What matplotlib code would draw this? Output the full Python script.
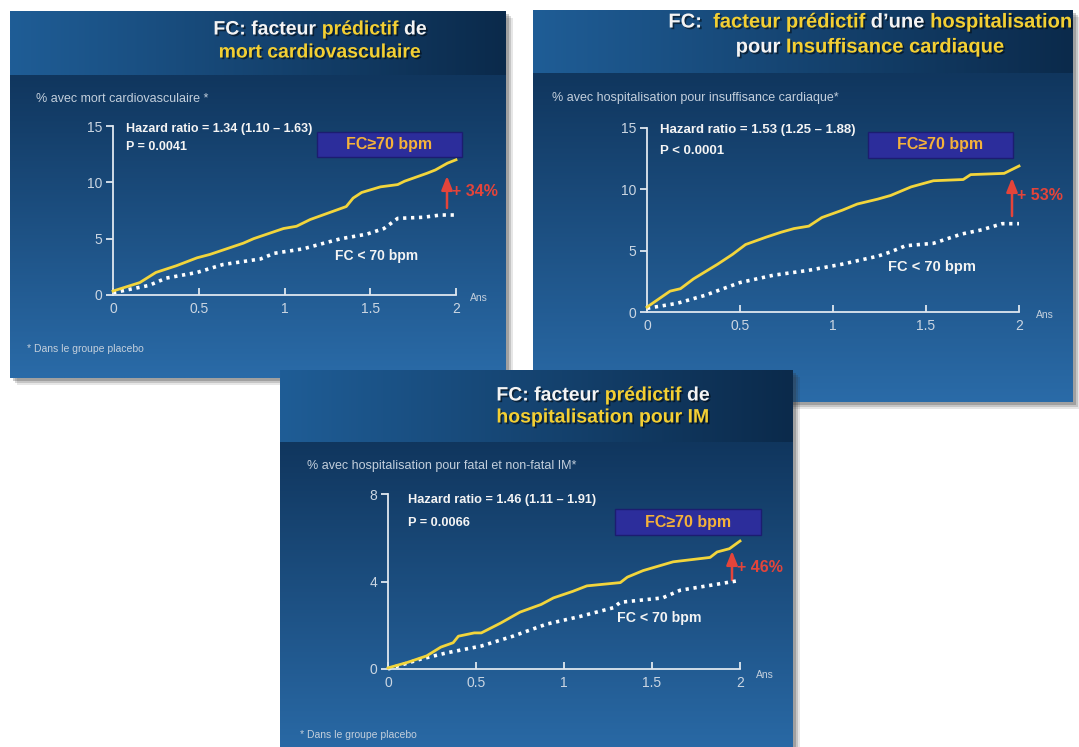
import numpy as np
import matplotlib.pyplot as plt
import matplotlib.colors as mcolors
from matplotlib.patches import Rectangle
import matplotlib.patheffects as pe

W, H = 1079, 747

# ---- data (years, %) ----
t_hi1 = [0, 0.156, 0.25, 0.37, 0.49, 0.565, 0.76, 0.82, 0.994, 1.07, 1.15, 1.36, 1.40, 1.45, 1.56, 1.66, 1.70, 1.83, 1.88, 1.95, 2.0]
hi1 = [0.35, 1.1, 2.0, 2.6, 3.3, 3.6, 4.6, 5.0, 5.9, 6.1, 6.7, 7.85, 8.6, 9.1, 9.6, 9.8, 10.1, 10.8, 11.1, 11.7, 12.0]
t_lo1 = [0, 0.21, 0.31, 0.49, 0.64, 0.86, 0.94, 1.11, 1.23, 1.33, 1.48, 1.58, 1.66, 1.81, 1.91, 2.0]
lo1 = [0.2, 0.85, 1.5, 2.0, 2.7, 3.2, 3.7, 4.1, 4.6, 5.0, 5.4, 5.9, 6.8, 6.9, 7.1, 7.1]

t_hi2 = [0, 0.124, 0.18, 0.25, 0.38, 0.46, 0.53, 0.64, 0.72, 0.79, 0.87, 0.94, 1.05, 1.13, 1.24, 1.31, 1.42, 1.54, 1.70, 1.74, 1.92, 2.0]
hi2 = [0.4, 1.7, 1.9, 2.7, 3.9, 4.7, 5.5, 6.1, 6.5, 6.8, 7.0, 7.7, 8.3, 8.8, 9.2, 9.5, 10.2, 10.7, 10.8, 11.2, 11.3, 11.9]
t_lo2 = [0, 0.16, 0.31, 0.50, 0.68, 0.87, 1.05, 1.24, 1.31, 1.39, 1.54, 1.69, 1.80, 1.91, 2.0]
lo2 = [0.3, 0.7, 1.35, 2.4, 3.0, 3.4, 3.9, 4.55, 4.9, 5.4, 5.6, 6.35, 6.7, 7.2, 7.2]

t_hi3 = [0, 0.11, 0.22, 0.30, 0.37, 0.40, 0.49, 0.53, 0.64, 0.75, 0.87, 0.94, 1.05, 1.13, 1.32, 1.36, 1.45, 1.62, 1.83, 1.87, 1.94, 2.0]
hi3 = [0.05, 0.3, 0.6, 1.0, 1.2, 1.5, 1.65, 1.65, 2.1, 2.6, 2.95, 3.25, 3.55, 3.8, 3.95, 4.2, 4.5, 4.9, 5.1, 5.35, 5.5, 5.85]
t_lo3 = [0, 0.185, 0.34, 0.53, 0.71, 0.90, 1.09, 1.28, 1.32, 1.56, 1.66, 1.85, 2.0]
lo3 = [0, 0.45, 0.75, 1.05, 1.5, 2.05, 2.4, 2.8, 3.05, 3.25, 3.6, 3.85, 4.05]

x_ticks = [0, 0.5, 1, 1.5, 2]
x_ticklabels = ["0", "0.5", "1", "1.5", "2"]
y_ticks_15 = [0, 5, 10, 15]
y_ticks_8 = [0, 4, 8]

ylabels = ["% avec mort cardiovasculaire *",
           "% avec hospitalisation pour insuffisance cardiaque*",
           "% avec hospitalisation pour fatal et non-fatal IM*"]
hazard_texts = ["Hazard ratio = 1.34 (1.10 \u2013 1.63)",
                "Hazard ratio = 1.53 (1.25 \u2013 1.88)",
                "Hazard ratio = 1.46 (1.11 \u2013 1.91)"]
p_texts = ["P = 0.0041", "P < 0.0001", "P = 0.0066"]
increase_texts = ["+ 34%", "+ 53%", "+ 46%"]

WHITE = "#f4f4f4"
YEL = "#f3cf33"
LINE_YEL = "#f2d53c"
RED = "#e4443a"

plt.rcParams["font.family"] = ["Liberation Sans", "DejaVu Sans"]

fig = plt.figure(figsize=(W / 100, H / 100), dpi=100)
fig.patch.set_facecolor("white")


def grad(h, w, c0, c1, horizontal=False):
    c0 = np.array(mcolors.to_rgb(c0))
    c1 = np.array(mcolors.to_rgb(c1))
    if horizontal:
        s = np.linspace(0, 1, w)[None, :, None]
    else:
        s = np.linspace(0, 1, h)[:, None, None]
    return np.broadcast_to(c0 * (1 - s) + c1 * s, (h, w, 3))


def panel(x0, x1, y0, y1, yh, z):
    # soft shadow to the right / bottom
    for off, a in [(7, 0.12), (5, 0.18), (3, 0.25)]:
        fig.add_artist(Rectangle(((x0 + off) / W, 1 - (y1 + off) / H), (x1 - x0) / W, (y1 - y0) / H,
                                 transform=fig.transFigure, facecolor="#333333", alpha=a,
                                 edgecolor="none", zorder=z - 0.3))
    ax = fig.add_axes([x0 / W, 1 - y1 / H, (x1 - x0) / W, (y1 - y0) / H], zorder=z)
    ax.set_xlim(x0, x1)
    ax.set_ylim(y1, y0)
    ax.set_axis_off()
    ax.imshow(grad(200, 2, "#10365e", "#2a6ba8"), extent=(x0, x1, y1, yh),
              aspect="auto", interpolation="bilinear", zorder=0)
    ax.imshow(grad(2, 200, "#1f5d96", "#0b2a4b", horizontal=True), extent=(x0, x1, yh, y0),
              aspect="auto", interpolation="bilinear", zorder=0)
    return ax


def rich_line(ax, cx, y, pieces, size):
    r = fig.canvas.get_renderer()

    def width(s):
        t = ax.text(0, 0, s + "|", fontsize=size, fontweight="bold")
        w = t.get_window_extent(r).width
        t.remove()
        return w

    bar = width("")
    full = width("".join(s for s, _ in pieces)) - bar
    x = cx - full / 2
    prefix = ""
    for s, c in pieces:
        off = width(prefix) - bar if prefix else 0
        ax.text(x + off, y, s, color=c, fontsize=size, fontweight="bold", va="center", ha="left",
                zorder=3, path_effects=[pe.withSimplePatchShadow(offset=(1.2, -1.2), shadow_rgbFace="#000000", alpha=0.5)])
        prefix += s


def plot_axes(X0, X1, Y0, Yt, ymax, yticks, z, t_hi, hi, t_lo, lo):
    ax = fig.add_axes([X0 / W, 1 - Y0 / H, (X1 - X0) / W, (Y0 - Yt) / H], zorder=z + 0.1)
    ax.patch.set_alpha(0)
    ax.set_xlim(0, 2)
    ax.set_ylim(0, ymax)
    for s in ["top", "right"]:
        ax.spines[s].set_visible(False)
    for s in ["left", "bottom"]:
        ax.spines[s].set_color("#dfe7ef")
        ax.spines[s].set_linewidth(1.3)
    ax.set_xticks(x_ticks)
    ax.set_xticklabels(x_ticklabels)
    ax.set_yticks(yticks)
    ax.tick_params(axis="x", direction="in", length=5, width=1.3, color="#dfe7ef",
                   labelcolor="#cbd6e2", labelsize=10, pad=5)
    ax.tick_params(axis="y", direction="out", length=5, width=1.3, color="#dfe7ef",
                   labelcolor="#cbd6e2", labelsize=10, pad=3)
    ax.plot(t_lo, lo, color="white", lw=2.6, ls=(0, (0.9, 1.3)), clip_on=False, zorder=2)
    ax.plot(t_hi, hi, color=LINE_YEL, lw=2.0, clip_on=False, zorder=3)
    return ax


def annotations(ax, k, ylab, hz, ptxt, box, fc_lo, inc, arrow, ans, dans, fs):
    ax.text(ylab[0], ylab[1], ylabels[k], color="#c3cfdc", fontsize=9, va="center", zorder=3)
    ax.text(hz[0], hz[1], hazard_texts[k], color=WHITE, fontsize=fs, fontweight="bold", va="center", zorder=3)
    ax.text(hz[0], ptxt, p_texts[k], color=WHITE, fontsize=fs, fontweight="bold", va="center", zorder=3)
    bx0, by0, bx1, by1 = box
    ax.add_patch(Rectangle((bx0, by0), bx1 - bx0, by1 - by0, facecolor="#2c2d9b",
                           edgecolor="#1c1d70", lw=1, zorder=3))
    ax.text((bx0 + bx1) / 2, (by0 + by1) / 2, "FC\u226570 bpm", color="#f4b23a", fontsize=11.5,
            fontweight="bold", ha="center", va="center", zorder=4)
    ax.text(fc_lo[0], fc_lo[1], "FC < 70 bpm", color=WHITE, fontsize=fs + 1, fontweight="bold",
            va="center", zorder=3)
    ax.text(inc[0], inc[1], increase_texts[k], color=RED, fontsize=11.5,
            fontweight="bold", va="center", zorder=3)
    ax.annotate("", xy=(arrow[0], arrow[2]), xytext=(arrow[0], arrow[1]), zorder=3,
                arrowprops=dict(arrowstyle="-|>,head_width=0.3,head_length=0.75", color=RED,
                                lw=1.8, shrinkA=0, shrinkB=0, mutation_scale=11))
    ax.text(ans[0], ans[1], "Ans", color="#c3cfdc", fontsize=7.5, va="center", zorder=3)
    if dans is not None:
        ax.text(dans[0], dans[1], "* Dans le groupe placebo", color="#c3cfdc", fontsize=7.5,
                va="center", zorder=3)


# ---- panel 1 : mort cardiovasculaire ----
bg1 = panel(10, 506, 11, 378, 75, 1)
rich_line(bg1, 320, 30, [("FC: facteur ", WHITE), ("pr\u00e9dictif", YEL), (" de", WHITE)], 14)
rich_line(bg1, 320, 53, [("mort cardiovasculaire", YEL)], 14)
annotations(bg1, 0, (36, 99), (126, 129), 147, (317, 132, 462, 157), (335, 256),
            (452, 192), (447, 208, 176), (470, 298), (27, 349), 9)
plot_axes(113, 456, 295, 126, 15, y_ticks_15, 1, t_hi1, hi1, t_lo1, lo1)

# ---- panel 2 : hospitalisation pour insuffisance cardiaque ----
bg2 = panel(533, 1073, 10, 402, 73, 2)
rich_line(bg2, 870, 22, [("FC:  ", WHITE), ("facteur pr\u00e9dictif", YEL), (" d\u2019une ", WHITE),
                         ("hospitalisation", YEL)], 14.5)
rich_line(bg2, 870, 47, [("pour ", WHITE), ("Insuffisance cardiaque", YEL)], 14.5)
annotations(bg2, 1, (552, 98), (660, 130), 151, (868, 132, 1013, 158), (888, 267),
            (1017, 196), (1012, 216, 178), (1036, 315), None, 9.5)
plot_axes(647, 1019, 312, 128, 15, y_ticks_15, 2, t_hi2, hi2, t_lo2, lo2)

# ---- panel 3 : hospitalisation pour IM ----
bg3 = panel(280, 793, 370, 760, 442, 3)
rich_line(bg3, 603, 396, [("FC: facteur ", WHITE), ("pr\u00e9dictif", YEL), (" de", WHITE)], 14)
rich_line(bg3, 603, 418, [("hospitalisation pour IM", YEL)], 14)
annotations(bg3, 2, (307, 466), (408, 500), 523, (615, 509, 761, 535), (617, 618),
            (737, 568), (732, 580, 551), (756, 675), (300, 735), 9.2)
plot_axes(388, 740, 669, 494, 8, y_ticks_8, 3, t_hi3, hi3, t_lo3, lo3)

fig.savefig("out.png", dpi=100, facecolor="white")
